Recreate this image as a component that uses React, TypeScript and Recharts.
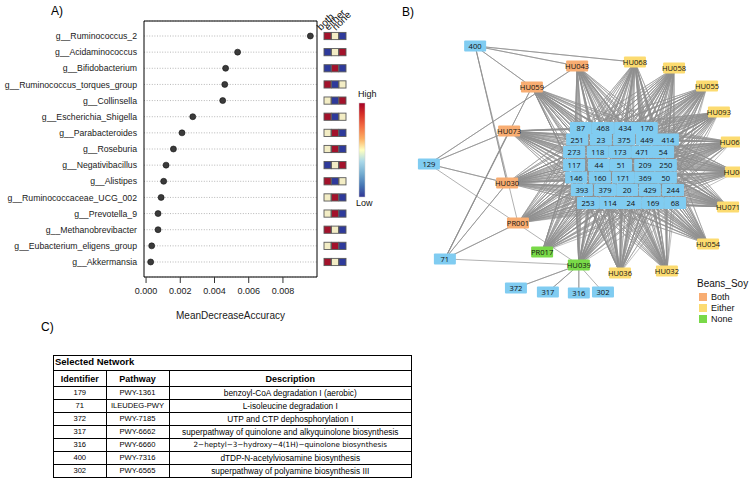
import React from 'react'
import {
  ScatterChart,
  Scatter,
  XAxis,
  YAxis,
  CartesianGrid,
  ReferenceArea,
} from 'recharts'

// ---- panel A: random forest importance ----
const taxa = [
  'g__Ruminococcus_2',
  'g__Acidaminococcus',
  'g__Bifidobacterium',
  'g__Ruminococcus_torques_group',
  'g__Collinsella',
  'g__Escherichia_Shigella',
  'g__Parabacteroides',
  'g__Roseburia',
  'g__Negativibacillus',
  'g__Alistipes',
  'g__Ruminococcaceae_UCG_002',
  'g__Prevotella_9',
  'g__Methanobrevibacter',
  'g__Eubacterium_eligens_group',
  'g__Akkermansia',
]
const meanDecreaseAccuracy = [
  0.0096, 0.00535, 0.00465, 0.0046, 0.00448, 0.00273, 0.0021, 0.0016, 0.00117,
  0.00103, 0.00088, 0.0007, 0.0007, 0.00033, 0.00027,
]
const accuracyTicks = [0, 0.002, 0.004, 0.006, 0.008]
const dietGroups = ['both', 'either', 'none']
// 1 = high, 0 = middle, -1 = low  (both, either, none)
const heatLevels = [
  [1, 0, -1],
  [-1, 0, 1],
  [-1, 1, -1],
  [1, -1, 0],
  [0, -1, 1],
  [1, -1, 0],
  [0, 1, -1],
  [0, 1, -1],
  [-1, 0, 1],
  [1, -1, 0],
  [0, 1, -1],
  [0, 1, -1],
  [1, 0, -1],
  [0, 1, -1],
  [1, 0, -1],
]

// ---- panel B: network (layout coords 0-100) ----
const bothSamples = [
  { id: 'HU043', x: 52.1, y: 10.0 },
  { id: 'HU059', x: 38.8, y: 18.1 },
  { id: 'HU073', x: 32.1, y: 35.0 },
  { id: 'HU030', x: 31.5, y: 55.0 },
  { id: 'PR001', x: 34.7, y: 70.4 },
]
const eitherSamples = [
  { id: 'HU068', x: 69.1, y: 8.5 },
  { id: 'HU058', x: 80.6, y: 10.8 },
  { id: 'HU055', x: 90.3, y: 17.7 },
  { id: 'HU093', x: 93.8, y: 27.7 },
  { id: 'HU067', x: 97.6, y: 39.2 },
  { id: 'HU065', x: 98.8, y: 50.8 },
  { id: 'HU071', x: 96.5, y: 64.2 },
  { id: 'HU054', x: 90.6, y: 78.5 },
  { id: 'HU032', x: 78.5, y: 88.8 },
  { id: 'HU036', x: 64.7, y: 89.6 },
]
const noneSamples = [
  { id: 'PR017', x: 41.8, y: 81.5 },
  { id: 'HU039', x: 52.6, y: 86.5 },
]
const corePathways = [
  { id: '87', x: 53.2, y: 33.8 },
  { id: '468', x: 59.7, y: 33.8 },
  { id: '434', x: 66.2, y: 33.8 },
  { id: '170', x: 72.6, y: 33.8 },
  { id: '251', x: 52.1, y: 38.3 },
  { id: '23', x: 59.1, y: 38.3 },
  { id: '375', x: 65.9, y: 38.3 },
  { id: '449', x: 72.6, y: 38.3 },
  { id: '414', x: 78.8, y: 38.3 },
  { id: '273', x: 51.2, y: 43.1 },
  { id: '118', x: 58.2, y: 43.1 },
  { id: '173', x: 64.7, y: 43.1 },
  { id: '471', x: 71.2, y: 43.1 },
  { id: '54', x: 77.4, y: 43.1 },
  { id: '117', x: 51.2, y: 48.1 },
  { id: '44', x: 58.5, y: 48.1 },
  { id: '51', x: 65.0, y: 48.1 },
  { id: '209', x: 72.1, y: 48.1 },
  { id: '250', x: 78.2, y: 48.1 },
  { id: '146', x: 51.8, y: 52.9 },
  { id: '160', x: 58.8, y: 52.9 },
  { id: '171', x: 65.6, y: 52.9 },
  { id: '369', x: 72.1, y: 52.9 },
  { id: '50', x: 78.2, y: 52.9 },
  { id: '393', x: 53.5, y: 57.7 },
  { id: '379', x: 60.3, y: 57.7 },
  { id: '20', x: 66.8, y: 57.7 },
  { id: '429', x: 73.5, y: 57.7 },
  { id: '244', x: 80.3, y: 57.7 },
  { id: '253', x: 55.3, y: 62.7 },
  { id: '114', x: 61.8, y: 62.7 },
  { id: '24', x: 67.9, y: 62.7 },
  { id: '169', x: 74.4, y: 62.7 },
  { id: '68', x: 80.9, y: 62.7 },
]
const outerPathways = [
  { id: '400', x: 22.1, y: 2.3 },
  { id: '129', x: 8.5, y: 47.7 },
  { id: '71', x: 13.2, y: 84.2 },
  { id: '372', x: 34.1, y: 95.4 },
  { id: '317', x: 43.5, y: 96.9 },
  { id: '316', x: 52.6, y: 97.3 },
  { id: '302', x: 59.7, y: 96.9 },
]
const outerLinks: [string, string[]][] = [
  ['400', ['HU043', 'HU068', 'HU059', 'HU030', 'PR001']],
  ['129', ['HU043', 'HU073', 'HU030', 'HU039']],
  ['71', ['HU059', 'HU073', 'HU030', 'PR001', 'HU039']],
  ['HU039', ['372', '317', '316', '302']],
]

// ---- panel C: table ----
const tableIds = ['179', '71', '372', '317', '316', '400', '302']
const tablePathways = ['PWY-1361', 'ILEUDEG-PWY', 'PWY-7185', 'PWY-6662', 'PWY-6660', 'PWY-7316', 'PWY-6565']
const tableDescriptions = [
  'benzoyl-CoA degradation I (aerobic)',
  'L-isoleucine degradation I',
  'UTP and CTP dephosphorylation I',
  'superpathway of quinolone and alkyquinolone biosynthesis',
  '2\u2212heptyl\u22123\u2212hydroxy\u22124(1H)\u2212quinolone biosynthesis',
  'dTDP-N-acetylviosamine biosynthesis',
  'superpathway of polyamine biosynthesis III',
]

const SANS = '"Liberation Sans", Arial, Helvetica, sans-serif'
const HEAT_COLOR: Record<number, string> = { 1: '#A3122B', 0: '#F3EDC5', '-1': '#2E3A9B' }
const GROUP_COLOR = { Both: '#F8AD72', Either: '#FCDB70', None: '#79D948', path: '#80CCF1' }

const rowIdx = taxa.map((_, i) => i)
const Y_DOMAIN = [-0.93, 14.93]
const X_DOMAIN = [-0.00012, 0.00999]

const importanceData = taxa.map((t, i) => ({ name: t, row: i, value: meanDecreaseAccuracy[i] }))
const heatData = taxa.flatMap((t, row) =>
  dietGroups.map((g, c) => ({ row, col: c + 1, level: heatLevels[row][c] }))
)

const allNodes = [...bothSamples, ...eitherSamples, ...noneSamples, ...corePathways, ...outerPathways]
const nodeById: Record<string, { id: string; x: number; y: number }> = {}
allNodes.forEach((n) => (nodeById[n.id] = n))
const hubs = [...bothSamples, ...eitherSamples, ...noneSamples]
const hubStars = hubs.map((h) => corePathways.flatMap((c) => [h, c]))
const outerStars = outerLinks.map(([a, bs]) => bs.flatMap((b) => [nodeById[a], nodeById[b]]))

const dot = (p: any) => (
  <circle cx={p.cx} cy={p.cy} r={3} fill="#3b3b3b" stroke="#111" strokeWidth={0.6} />
)
const heatCell = (p: any) => (
  <rect
    x={p.cx - 3.5}
    y={p.cy - 3.6}
    width={7}
    height={7.2}
    fill={HEAT_COLOR[p.payload.level]}
    stroke="#5a5a5a"
    strokeWidth={0.9}
  />
)
const groupTick = (p: any) => (
  <text
    transform={`translate(${p.x - 6.5},31) rotate(-45)`}
    fontSize={10}
    fontFamily={SANS}
    fill="#111"
  >
    {dietGroups[p.payload.value - 1]}
  </text>
)
const makeNode = (fill: string, w: number, h: number) => (p: any) => (
  <g>
    <rect x={p.cx - w / 2} y={p.cy - h / 2} width={w} height={h} fill={fill} rx={1} />
    <text
      x={p.cx}
      y={p.cy + 3}
      textAnchor="middle"
      fontSize={7.6}
      fontFamily='"Open Sans", sans-serif'
      fill="#111"
    >
      {p.payload.id}
    </text>
  </g>
)
const noShape = () => <g />

const ColorBar = () => (
  <svg width={30} height={125} style={{ position: 'absolute', left: 350, top: 85 }}>
    <defs>
      <linearGradient id="rdylbu" x1="0" y1="0" x2="0" y2="1">
        <stop offset="0" stopColor="#A50026" />
        <stop offset="0.12" stopColor="#D73027" />
        <stop offset="0.25" stopColor="#F46D43" />
        <stop offset="0.38" stopColor="#FDAE61" />
        <stop offset="0.5" stopColor="#FFFFBF" />
        <stop offset="0.62" stopColor="#ABD9E9" />
        <stop offset="0.75" stopColor="#74ADD1" />
        <stop offset="0.88" stopColor="#4575B4" />
        <stop offset="1" stopColor="#313695" />
      </linearGradient>
    </defs>
    <text x={8} y={12} fontSize={9} fontFamily={SANS} fill="#111">High</text>
    <rect x={9} y={18} width={6} height={94} fill="url(#rdylbu)" stroke="#ccc" strokeWidth={0.5} />
    <text x={6} y={121} fontSize={9} fontFamily={SANS} fill="#111">Low</text>
  </svg>
)

const cell = (extra: React.CSSProperties = {}): React.CSSProperties => ({
  borderTop: '1px solid #000',
  padding: 0,
  height: 12,
  fontSize: 7.6,
  lineHeight: '12px',
  textAlign: 'center',
  whiteSpace: 'nowrap',
  overflow: 'hidden',
  ...extra,
})
const headCell = (extra: React.CSSProperties = {}) =>
  cell({ fontWeight: 'bold', fontSize: 9, height: 15, borderTop: '1.5px solid #000', ...extra })

const App = () => {
  return (
    <div
      style={{
        position: 'absolute',
        left: 0,
        top: 0,
        width: 751,
        height: 500,
        background: '#fff',
        fontFamily: SANS,
        overflow: 'hidden',
      }}
    >
      <div style={{ position: 'absolute', left: 51, top: 4, fontSize: 12 }}>A)</div>
      <div style={{ position: 'absolute', left: 402, top: 5, fontSize: 12 }}>B)</div>
      <div style={{ position: 'absolute', left: 41, top: 320, fontSize: 12 }}>C)</div>

      {/* A: importance dot plot */}
      <div style={{ position: 'absolute', left: 0, top: 0 }}>
        <ScatterChart width={380} height={325} margin={{ top: 21, right: 63, bottom: 8, left: 4 }}>
          <CartesianGrid vertical={false} stroke="#a5a5a5" strokeDasharray="1 1.6" strokeWidth={0.8} />
          <XAxis
            type="number"
            dataKey="value"
            domain={X_DOMAIN}
            ticks={accuracyTicks}
            tickFormatter={(v: number) => v.toFixed(3)}
            height={40}
            axisLine={false}
            tickSize={6}
            tickMargin={5}
            tickLine={{ stroke: '#333' }}
            tick={{ fontSize: 9, fill: '#1a1a1a', fontFamily: SANS }}
            label={{
              value: 'MeanDecreaseAccuracy',
              position: 'insideBottom',
              offset: -2,
              fontSize: 10,
              fill: '#1a1a1a',
              fontFamily: SANS,
            }}
          />
          <YAxis
            type="number"
            dataKey="row"
            domain={Y_DOMAIN}
            reversed
            ticks={rowIdx}
            interval={0}
            tickFormatter={(i: number) => taxa[i]}
            width={140}
            axisLine={false}
            tickLine={false}
            tickSize={5}
            tickMargin={2}
            tick={{ fontSize: 8.7, fill: '#1a1a1a', fontFamily: SANS }}
          />
          <ReferenceArea
            x1={X_DOMAIN[0]}
            x2={X_DOMAIN[1]}
            y1={Y_DOMAIN[0]}
            y2={Y_DOMAIN[1]}
            fill="none"
            fillOpacity={0}
            stroke="#000"
            strokeWidth={1}
          />
          <Scatter data={importanceData} shape={dot} isAnimationActive={false} />
        </ScatterChart>
      </div>

      {/* A: heatmap of group abundance */}
      <div style={{ position: 'absolute', left: 316, top: 0 }}>
        <ScatterChart width={60} height={325} margin={{ top: 0, right: 29.75, bottom: 48, left: 7.75 }}>
          <XAxis
            type="number"
            dataKey="col"
            orientation="top"
            domain={[0.5, 3.5]}
            ticks={[1, 2, 3]}
            interval={0}
            height={21}
            axisLine={false}
            tickLine={false}
            tickSize={0}
            tickMargin={0}
            tick={groupTick}
          />
          <YAxis type="number" dataKey="row" domain={Y_DOMAIN} reversed hide />
          <Scatter data={heatData} shape={heatCell} isAnimationActive={false} />
        </ScatterChart>
      </div>
      <ColorBar />

      {/* B: network */}
      <div style={{ position: 'absolute', left: 380, top: 0, width: 360, height: 330, overflow: 'hidden' }}>
        <ScatterChart width={360} height={330} margin={{ top: 40, right: 0, bottom: 30, left: 20 }}>
          <XAxis type="number" dataKey="x" domain={[0, 100]} hide />
          <YAxis type="number" dataKey="y" domain={[0, 100]} reversed hide />
          {hubStars.map((d, i) => (
            <Scatter
              key={'h' + i}
              data={d}
              line={{ stroke: '#8f8f8f', strokeWidth: 0.55 }}
              lineType="joint"
              shape={noShape}
              isAnimationActive={false}
            />
          ))}
          {outerStars.map((d, i) => (
            <Scatter
              key={'o' + i}
              data={d}
              line={{ stroke: '#8f8f8f', strokeWidth: 0.7 }}
              lineType="joint"
              shape={noShape}
              isAnimationActive={false}
            />
          ))}
          <Scatter data={corePathways} shape={makeNode(GROUP_COLOR.path, 22, 12)} isAnimationActive={false} />
          <Scatter data={outerPathways} shape={makeNode(GROUP_COLOR.path, 22, 11)} isAnimationActive={false} />
          <Scatter data={bothSamples} shape={makeNode(GROUP_COLOR.Both, 22, 11)} isAnimationActive={false} />
          <Scatter data={eitherSamples} shape={makeNode(GROUP_COLOR.Either, 22, 11)} isAnimationActive={false} />
          <Scatter data={noneSamples} shape={makeNode(GROUP_COLOR.None, 22, 11)} isAnimationActive={false} />
        </ScatterChart>
      </div>
      <div style={{ position: 'absolute', left: 697, top: 278, fontSize: 10, color: '#111' }}>
        <div style={{ marginBottom: 2 }}>Beans_Soy</div>
        {(['Both', 'Either', 'None'] as const).map((g) => (
          <div key={g} style={{ display: 'flex', alignItems: 'center', height: 11, fontSize: 9 }}>
            <span style={{ width: 8, height: 8, background: GROUP_COLOR[g], marginLeft: 2, marginRight: 4 }} />
            {g}
          </div>
        ))}
      </div>

      {/* C: table */}
      <div
        style={{
          position: 'absolute',
          left: 53,
          top: 355,
          width: 359,
          border: '1.5px solid #000',
          boxSizing: 'border-box',
          color: '#000',
        }}
      >
        <div style={{ height: 14, fontSize: 9.5, fontWeight: 'bold', lineHeight: '12px', paddingLeft: 1 }}>
          Selected Network
        </div>
        <table style={{ borderCollapse: 'collapse', width: '100%', tableLayout: 'fixed' }}>
          <colgroup>
            <col style={{ width: 52 }} />
            <col style={{ width: 63 }} />
            <col />
          </colgroup>
          <tbody>
            <tr>
              <td style={headCell()}>Identifier</td>
              <td style={headCell({ borderLeft: '1px solid #000' })}>Pathway</td>
              <td style={headCell({ borderLeft: '1px solid #000' })}>Description</td>
            </tr>
            {tableIds.map((id, i) => (
              <tr key={id}>
                <td style={cell()}>{id}</td>
                <td style={cell({ borderLeft: '1px solid #000', overflow: 'visible' })}>{tablePathways[i]}</td>
                <td
                  style={cell({
                    borderLeft: '1px solid #000',
                    fontFamily: i === 4 ? '"DejaVu Sans", sans-serif' : SANS,
                    fontSize: i === 4 ? 7.2 : 8.3,
                  })}
                >
                  {tableDescriptions[i]}
                </td>
              </tr>
            ))}
          </tbody>
        </table>
      </div>
    </div>
  )
}

export default App
